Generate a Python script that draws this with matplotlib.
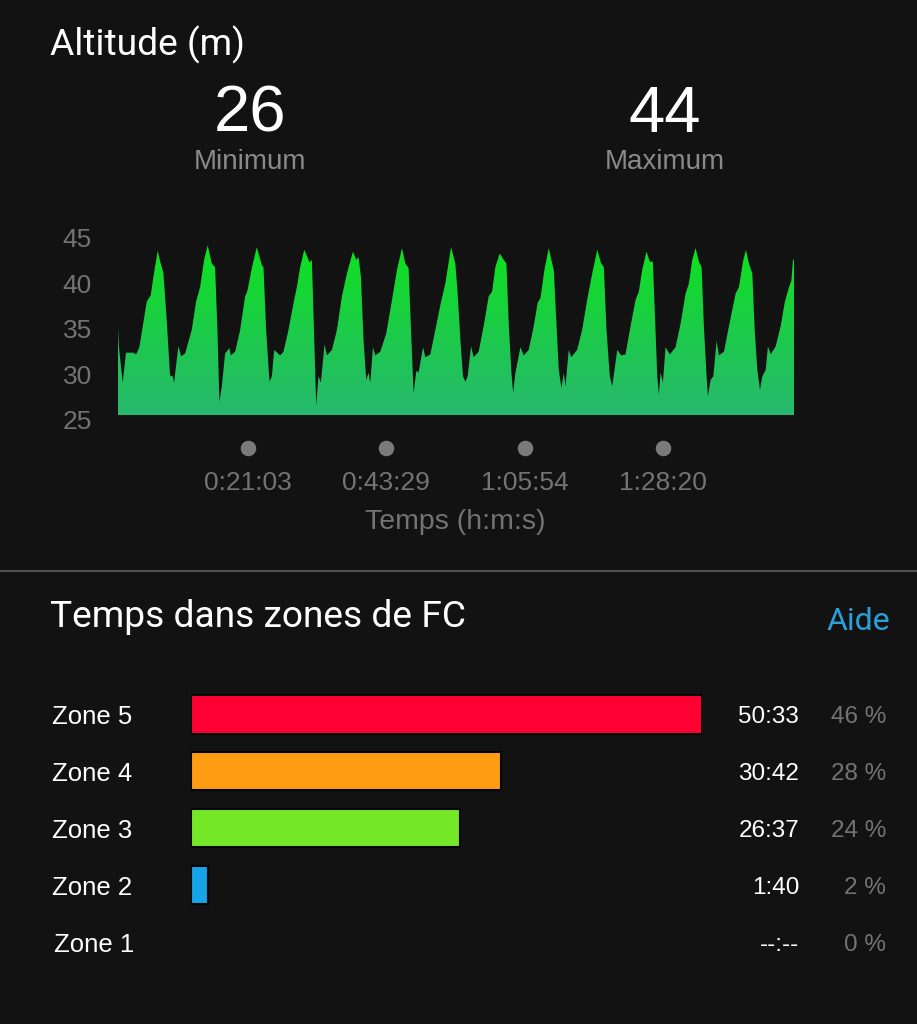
import matplotlib
matplotlib.use("Agg")
import matplotlib.pyplot as plt
import matplotlib.transforms as mtransforms
from matplotlib.colors import LinearSegmentedColormap
from matplotlib.patches import Polygon
from matplotlib.lines import Line2D
import numpy as np

# ---------------- data ----------------
time_min = [
    0.0, 0.15, 0.76, 1.30, 2.48, 2.92, 3.46, 4.11, 4.65, 5.30, 5.73, 6.43, 6.92, 7.35, 7.89,
    8.43, 8.86, 9.08, 9.78, 10.22, 10.87, 11.95, 12.65, 13.30, 13.95, 14.54, 15.19, 15.73,
    16.11, 16.43, 16.82, 17.35, 18.05, 18.28, 18.98, 19.79, 20.60, 20.97, 21.68, 22.49,
    23.31, 23.57, 24.00, 24.54, 24.93, 25.30,
    26.27, 26.81, 27.62, 28.54, 28.98, 29.52, 30.17, 30.70, 31.02, 31.41, 31.67, 32.11,
    32.48, 32.87, 33.46, 33.85, 34.66, 35.47, 36.28, 37.09, 38.06, 38.60, 38.97, 39.36,
    39.78, 40.22, 40.59, 40.87, 41.31, 41.68, 42.49, 43.46, 44.39, 45.20, 46.01, 46.55,
    47.08, 47.47, 47.89, 48.33, 48.70, 49.42, 49.79, 50.60, 51.41, 52.22, 53.03, 53.96,
    54.65, 55.03, 55.47, 55.90, 56.28, 56.65, 57.20, 57.62, 58.43, 59.24, 60.06, 60.61,
    61.14, 61.84, 62.49, 62.93, 63.30, 63.74, 64.01, 64.39, 65.20, 65.73, 66.54, 67.35,
    68.00, 68.44, 69.09, 69.79, 70.34, 70.60, 71.03, 71.41, 71.85, 72.22, 72.49, 73.03,
    73.42, 74.39, 75.20, 76.01, 76.83, 77.64, 78.28, 78.71, 79.14, 79.68, 80.07, 80.44,
    80.88, 81.53,
    82.22, 83.04, 83.85, 84.38, 84.93, 85.63, 86.17, 86.65, 86.98, 87.37, 87.63, 87.90,
    88.28, 88.71, 89.41, 90.33, 91.15, 91.96, 92.49, 93.04, 93.58, 94.11, 94.55, 94.92,
    95.36, 95.57, 96.01, 96.45, 96.98, 97.36, 98.17, 98.98, 100.06, 100.60, 101.31,
    101.74, 102.22, 102.77, 103.15, 103.58, 104.01, 104.39, 104.93, 105.30, 105.74,
    106.55, 107.36, 108.01, 108.71, 109.10, 109.36, 109.52,
]
altitude = [
    35.1, 33.0, 29.1, 32.4, 32.4, 32.2, 33.0, 35.7, 38.0, 38.7, 40.7, 43.6, 42.2, 41.2, 36.0,
    29.9, 29.8, 29.1, 33.1, 32.0, 32.3, 34.9, 38.0, 39.6, 42.6, 44.2, 42.2, 41.8,
    34.9, 27.0, 28.7, 32.3, 32.9, 32.1, 32.5, 34.9, 38.6, 39.2, 41.7, 44.0,
    42.0, 41.8, 34.9, 29.2, 29.8, 32.7,
    32.1, 32.5, 34.9, 38.2, 39.6, 41.8, 43.7, 42.9, 42.3, 42.6, 36.7, 26.6,
    29.8, 29.1, 33.3, 32.1, 32.7, 34.9, 38.6, 41.1, 43.5, 42.6, 42.9, 40.7,
    33.8, 29.4, 30.2, 29.1, 33.0, 32.1, 32.5, 34.5, 38.2, 41.5, 43.9, 42.2,
    41.7, 34.9, 27.9, 30.4, 30.2, 33.0, 31.9, 32.2, 34.9, 37.6, 40.0, 44.0,
    42.2, 38.9, 33.8, 29.8, 29.2, 29.8, 33.1, 31.9, 32.5, 35.3, 38.6, 39.1,
    41.8, 43.3, 42.6, 42.2, 35.6, 30.2, 28.0, 30.2, 33.0, 32.1, 32.7, 35.3,
    37.9, 38.4, 41.5, 43.9, 42.2, 41.5, 35.6, 30.5, 28.5, 30.2, 28.7, 32.7,
    31.9, 32.7, 34.9, 38.2, 41.1, 43.7, 42.2, 41.8, 34.9, 29.8, 28.7, 30.5,
    32.7, 32.1,
    32.2, 35.3, 38.2, 39.1, 41.5, 43.5, 42.4, 42.4, 36.7, 29.8, 27.8, 30.2,
    29.1, 33.0, 32.2, 33.0, 35.6, 38.9, 40.0, 42.6, 43.9, 42.4, 41.8, 35.3,
    29.8, 27.6, 29.4, 29.8, 33.7, 32.1, 32.5, 35.3, 38.9, 39.6, 42.6,
    43.7, 42.2, 41.1, 34.9, 30.5, 28.3, 29.8, 30.5, 33.1, 32.2,
    33.1, 35.3, 37.9, 39.6, 40.3, 42.6, 42.6,
]
alt_min_text = "26"
alt_max_text = "44"
y_tick_values = [25, 30, 35, 40, 45]
x_tick_labels = ["0:21:03", "0:43:29", "1:05:54", "1:28:20"]

zone_names = ["Zone 5", "Zone 4", "Zone 3", "Zone 2", "Zone 1"]
zone_times = ["50:33", "30:42", "26:37", "1:40", "--:--"]
zone_pcts = ["46 %", "28 %", "24 %", "2 %", "0 %"]
zone_colors = ["#FF0033", "#FF9C12", "#74E827", "#16A3E8", "#888888"]


def hms_to_min(s):
    h, m, sec = [int(p) for p in s.split(":")]
    return h * 60 + m + sec / 60.0


def ms_to_sec(s):
    if "-" in s:
        return 0
    m, sec = s.split(":")
    return int(m) * 60 + int(sec)


# ---------------- figure ----------------
W, H = 917, 1024
BG = "#121212"
GRAY = "#737373"
TITLE_FONT = ["Roboto", "DejaVu Sans"]
BODY_FONT = ["Liberation Sans", "DejaVu Sans"]

fig = plt.figure(figsize=(W / 100, H / 100), dpi=100, facecolor=BG)


def fx(px):
    return px / W


def fy(py):
    return 1 - py / H


# Header texts
fig.text(fx(50), fy(45), "Altitude (m)", color="white", fontsize=26.7,
         family=TITLE_FONT, ha="left", va="center")
fig.text(fx(250), fy(132), alt_min_text, color="white", fontsize=47,
         family=BODY_FONT, ha="center", va="baseline")
fig.text(fx(665), fy(132), alt_max_text, color="white", fontsize=47,
         family=BODY_FONT, ha="center", va="baseline")
fig.text(fx(250), fy(162), "Minimum", color="#8a8a8a", fontsize=20,
         family=BODY_FONT, ha="center", va="center")
fig.text(fx(665), fy(162), "Maximum", color="#8a8a8a", fontsize=20,
         family=BODY_FONT, ha="center", va="center")

# Altitude area chart
px_per_m = 9.1
ymin = 25 + 5 / px_per_m
ymax = 45 + 2 / px_per_m
ax = fig.add_axes([fx(118), fy(415), fx(794) - fx(118), (415 - 236) / H])
ax.set_facecolor(BG)
ax.set_xlim(0, time_min[-1])
ax.set_ylim(ymin, ymax)
ax.axis("off")

verts = [(time_min[0], ymin)] + list(zip(time_min, altitude)) + [(time_min[-1], ymin)]
poly = Polygon(verts, closed=True, facecolor="none", edgecolor="none")
ax.add_patch(poly)
cmap = LinearSegmentedColormap.from_list("alt", ["#27B86E", "#1ccc48", "#0DE31C"])
grad = np.linspace(0, 1, 256).reshape(-1, 1)
im = ax.imshow(grad, extent=[0, time_min[-1], ymin, 44.5], origin="lower",
               aspect="auto", cmap=cmap, interpolation="bilinear")
im.set_clip_path(poly)

dy = 2.2 / px_per_m
for v in y_tick_values:
    ax.text(-0.0385, v - dy, str(v), transform=ax.get_yaxis_transform(), color=GRAY,
            fontsize=19, family=BODY_FONT, ha="right", va="center", clip_on=False)

xt = [hms_to_min(s) for s in x_tick_labels]
blend = mtransforms.blended_transform_factory(ax.transData, fig.transFigure)
ax.scatter(xt, [fy(448)] * len(xt), s=125, color="#7a7a7a", transform=blend,
           clip_on=False, linewidths=0)
for x, lab in zip(xt, x_tick_labels):
    ax.text(x, fy(483), lab, transform=blend, color=GRAY, fontsize=19,
            family=BODY_FONT, ha="center", va="center", clip_on=False)
fig.text(fx(455), fy(522), "Temps (h:m:s)", color=GRAY, fontsize=20.5,
         family=BODY_FONT, ha="center", va="center")

# Separator
fig.add_artist(Line2D([0, 1], [fy(571), fy(571)], color="#505050", lw=1.5,
                      transform=fig.transFigure))

# HR zones section
fig.text(fx(50), fy(617), "Temps dans zones de FC", color="white", fontsize=26.7,
         family=TITLE_FONT, ha="left", va="center")
fig.text(fx(890), fy(621), "Aide", color="#2A9FD8", fontsize=23,
         family=TITLE_FONT, ha="right", va="center")

secs = [ms_to_sec(s) for s in zone_times]
ax2 = fig.add_axes([fx(191), fy(970.5), fx(702) - fx(191), 284.5 / H])
ax2.set_facecolor(BG)
ypos = np.arange(len(zone_names))
ax2.barh(ypos, secs, height=0.67, color=zone_colors, edgecolor="#050505",
         linewidth=[1.5 if s > 0 else 0 for s in secs], align="center")
ax2.set_xlim(0, max(secs))
ax2.set_ylim(len(zone_names) - 0.5, -0.5)
ax2.axis("off")

blend2 = mtransforms.blended_transform_factory(fig.transFigure, ax2.transData)
tdy = 3 / 56.9
for i, (nm, tt, pc) in enumerate(zip(zone_names, zone_times, zone_pcts)):
    xoff = 54 if nm == "Zone 1" else 52
    ax2.text(fx(xoff), i + tdy, nm, transform=blend2, color="white", fontsize=18.5,
             family=BODY_FONT, ha="left", va="center", clip_on=False)
    ax2.text(fx(799), i + tdy, tt, transform=blend2, color="white", fontsize=17.5,
             family=BODY_FONT, ha="right", va="center", clip_on=False)
    ax2.text(fx(886), i + tdy, pc, transform=blend2, color=GRAY, fontsize=17.5,
             family=BODY_FONT, ha="right", va="center", clip_on=False)

fig.savefig("out.png", dpi=100, facecolor=BG)
